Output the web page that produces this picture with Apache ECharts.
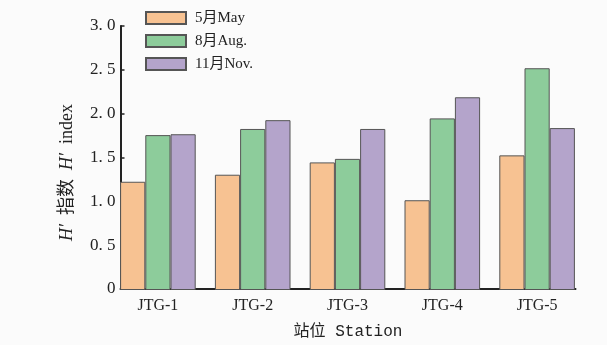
<!DOCTYPE html>
<html><head><meta charset="utf-8">
<script src="https://cdn.jsdelivr.net/npm/echarts@6/dist/echarts.min.js"></script>
<style>html,body{margin:0;padding:0;background:#fbfbfb}#c{width:607px;height:345px}</style>
</head><body><div id="c"></div>
<script>
const categories = ['JTG-1','JTG-2','JTG-3','JTG-4','JTG-5'];
const seriesNames = ['5月May','8月Aug.','11月Nov.'];
const may = [1.23, 1.31, 1.45, 1.02, 1.53];
const aug = [1.76, 1.83, 1.49, 1.95, 2.52];
const nov = [1.77, 1.93, 1.83, 2.19, 1.84];
const yTicks = [0, 0.5, 1.0, 1.5, 2.0, 2.5, 3.0];
const colors = ['#F7C292', '#8DCC9B', '#B4A4CB'];

const serif = '"Liberation Serif", "Noto Sans CJK SC", serif';
const chart = echarts.init(document.getElementById('c'), null, {renderer:'canvas'});
const values = [may, aug, nov];
chart.setOption({
  backgroundColor: '#fbfbfb',
  animation: false,
  legend: {
    orient: 'vertical', left: 140, top: 4,
    itemWidth: 40, itemHeight: 12, itemGap: 5,
    icon: 'rect',
    textStyle: {fontFamily: serif, fontSize: 15, lineHeight: 18, color: '#222', padding:[0,0,0,4]},
    data: seriesNames
  },
  grid: [
    {left: 110.5, right: 22.5, top: 26, bottom: 55},
    {left: 120.5, right: 31.5, top: 26, bottom: 55}
  ],
  xAxis: [
    {type: 'category', gridIndex: 0, data: categories,
     axisLine: {show: false}, axisTick: {show: false},
     axisLabel: {margin: 8, fontFamily: serif, fontSize: 16, color: '#222'}},
    {type: 'category', gridIndex: 1, data: categories,
     axisLine: {show: true, lineStyle: {color: '#222', width: 2}}, axisTick: {show: false},
     axisLabel: {show: false},
     name: '站位 Station', nameLocation: 'middle', nameGap: 35,
     nameTextStyle: {fontFamily: '"Liberation Mono", "Noto Sans CJK SC", monospace', fontSize: 16, color: '#222'}}
  ],
  yAxis: [
    {type: 'value', gridIndex: 0, min: 0, max: 3, interval: 0.5, show: false},
    {type: 'value', gridIndex: 1, min: 0, max: 3, interval: 0.5,
     axisLine: {show: true, lineStyle: {color: '#222', width: 2}},
     axisTick: {show: true, inside: true, length: 4, lineStyle: {color: '#222', width: 1.5}},
     splitLine: {show: false},
     axisLabel: {margin: 5, fontFamily: serif, fontSize: 17, color: '#222',
       formatter: v => yTicks.indexOf(v) >= 0 ? (v === 0 ? '0' : v.toFixed(1).replace('.', '. ')) : ''},
     name: '{i|H′}  指数  {i|H′}  index', nameLocation: 'middle', nameGap: 44, nameRotate: 90,
     nameTextStyle: {fontFamily: serif, fontSize: 18, color: '#222', padding: [0, 30, 0, 0],
       rich: {i: {fontFamily: serif, fontStyle: 'italic', fontSize: 18, color: '#222'}}}}
  ],
  series: seriesNames.map((n, i) => ({
    name: n, type: 'bar', xAxisIndex: 0, yAxisIndex: 0,
    data: values[i], barWidth: 25.2, barGap: '0%',
    itemStyle: {color: colors[i], borderColor: '#555', borderWidth: 1}
  }))
});
</script></body></html>
